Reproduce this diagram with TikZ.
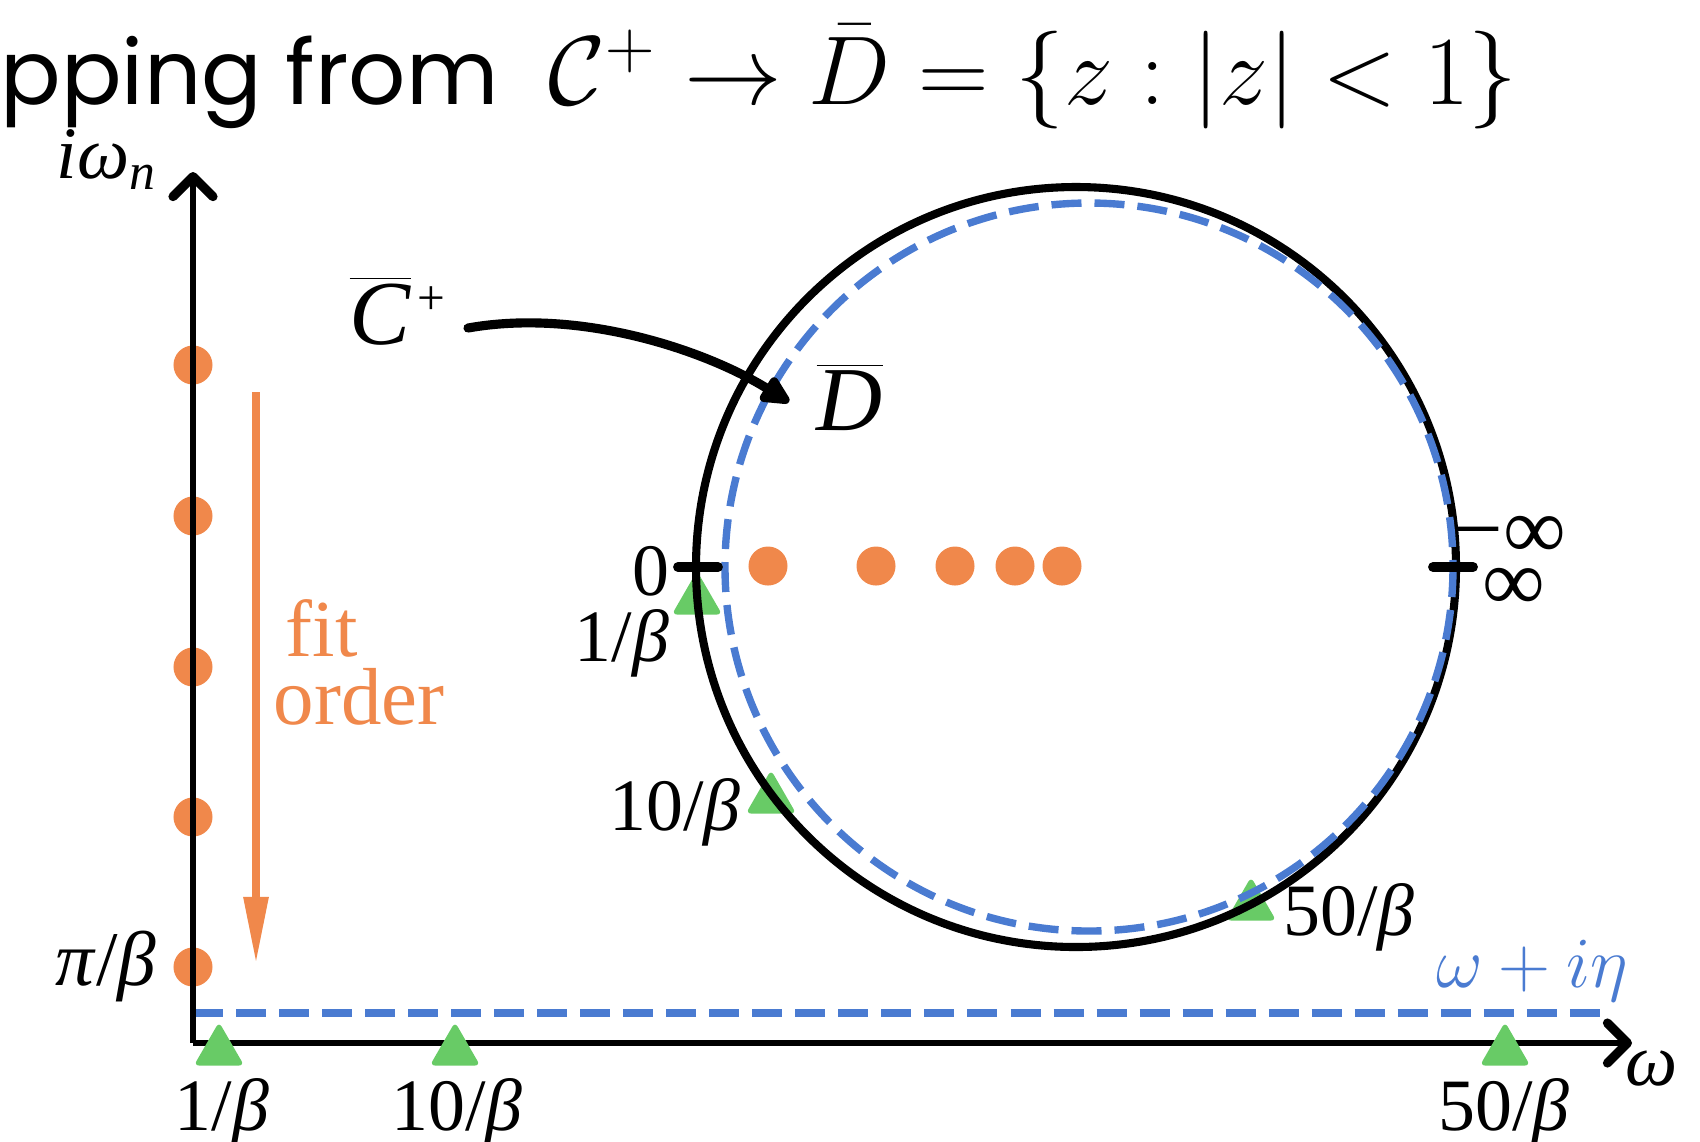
\RequirePackage{fix-cm}
\documentclass[tikz,border=0pt]{standalone}
\usepackage{fontspec}
\setmainfont{Liberation Serif}
\newfontfamily\titlefont{Poppins}
\usetikzlibrary{arrows.meta,shapes.geometric}
\definecolor{fitorange}{HTML}{F0884B}
\definecolor{polegreen}{HTML}{68CB66}
\definecolor{etablue}{HTML}{4A7BD1}
\tikzset{
  axis/.style={line width=1.6pt, -{Straight Barb[length=0.2cm,width=0.4cm,line width=2.6pt,round]}},
  matdot/.style={circle, fill=fitorange, inner sep=0pt, minimum size=0.39cm},
  pole/.style={regular polygon, regular polygon sides=3, fill=polegreen, inner sep=0pt, minimum size=0.58cm, rounded corners=1.5pt},
  etaline/.style={etablue, line width=2.1pt, dash pattern=on 0.3cm off 0.13cm},
  tickmark/.style={line width=2.8pt, line cap=round},
  lbl/.style={font=\fontsize{21}{24}\selectfont, inner sep=0pt, anchor=base},
  biglbl/.style={font=\fontsize{26}{30}\selectfont, inner sep=0pt, anchor=base west},
}
\begin{document}
\begin{tikzpicture}[x=0.01cm, y=-0.01cm]
  \useasboundingbox (0,0) rectangle (1700,1141);

  % title
  \node[inner sep=0pt, anchor=base west] (title) at (0,104)
    {{\titlefont\fontsize{25.5}{30}\selectfont pping from}\hspace{0.5cm}{\fontsize{27.8}{32}\selectfont$\mathcal{C}^{+} \to \bar{D} = \{z : |z| < 1\}$}};

  % Matsubara points on the imaginary axis
  \foreach \y [count=\i] in {365,516,667,817,967}
    \node[matdot] (m\i) at (193,\y) {};

  % poles on the unit circle
  \node[pole] (q1) at (697,600) {};
  \node[pole] (q10) at (771,799) {};
  \node[pole] (q50) at (1251,906) {};

  % unit circle and image of the real line
  \coordinate (cc) at (1076,567);
  \coordinate (ce) at (1089,567);
  \draw[line width=2.3pt] (cc) circle[radius=380];
  \draw[etaline] (ce) circle[radius=364];
  \coordinate (z0) at (698,567);
  \coordinate (zinf) at (1453,567);
  \draw[tickmark] ([xshift=-0.2cm]z0) -- ([xshift=0.2cm]z0);
  \draw[tickmark] ([xshift=-0.2cm]zinf) -- ([xshift=0.2cm]zinf);

  % mapped Matsubara points
  \foreach \x [count=\i] in {768,876,955,1015,1062}
    \node[matdot] (w\i) at (\x,566) {};

  % axes
  \coordinate (O) at (193,1043);
  \coordinate (ytip) at (193,172);
  \coordinate (xtip) at (1632,1043);
  \coordinate (etaS) at (193,1013);
  \coordinate (etaE) at (1612,1013);
  \draw[etaline] (etaS) -- (etaE);
  \draw[axis] (O) -- (ytip);
  \draw[axis] (O) -- (xtip);
  \node[pole] (p1) at (219,1051) {};
  \node[pole] (p10) at (455,1051) {};
  \node[pole] (p50) at (1505,1051) {};

  % axis labels
  \node[lbl] (ylab) at (107,178) {\textit{iω}\textsubscript{\textit{n}}};
  \node[lbl] (xlab) at (1652,1085) {\textit{ω}};
  \node[lbl, font=\fontsize{22}{24}\selectfont] (lpi) at (106,985) {\textit{π}/\textit{β}};
  \node[lbl] (lp1) at (222,1130) {1/\textit{β}};
  \node[lbl] (lp10) at (457,1130) {10/\textit{β}};
  \node[lbl] (lp50) at (1504,1130) {50/\textit{β}};
  \node[lbl, etablue, font=\fontsize{20.5}{24}\selectfont] (leta) at (1532,987) {$\omega + i\eta$};

  % labels on the disc
  \node[lbl] (l0) at (651,595) {0};
  \node[lbl] (lq1) at (622,661) {1/\textit{β}};
  \node[lbl] (lq10) at (675,830) {10/\textit{β}};
  \node[lbl] (lq50) at (1349,935) {50/\textit{β}};
  \node[lbl, font=\fontsize{25}{26}\selectfont] (lminf) at (1510,558) {−∞};
  \node[lbl, font=\fontsize{25}{26}\selectfont] (linf) at (1514,610) {∞};

  % fit order
  \coordinate (fitS) at (256,392);
  \coordinate (fitE) at (256,965);
  \draw[fitorange, line width=2.5pt, -{Triangle[length=0.68cm,width=0.23cm]}] (fitS) -- (fitE);
  \node[inner sep=0pt, anchor=base west, fitorange, font=\fontsize{23}{24}\selectfont] (fitA) at (285,656) {fit};
  \node[inner sep=0pt, anchor=base west, fitorange, font=\fontsize{23}{24}\selectfont] (fitB) at (273,724) {order};

  % mapping arrow
  \node[biglbl] (cbar) at (349,344) {$\overline{\mbox{\itshape C}}$\hspace{2pt}\raisebox{8.5pt}{\fontsize{14}{14}\selectfont +}};
  \node[biglbl] (dbar) at (816,430) {$\overline{\mbox{\itshape D}}$};
  \coordinate (mapS) at (468,328);
  \coordinate (mapE) at (789,402);
  \draw[line width=2.6pt, line cap=round, -{Triangle[length=0.34cm,width=0.3cm,round]}]
    (mapS) .. controls (580,308) and (705,350) .. (mapE);
\end{tikzpicture}
\end{document}
